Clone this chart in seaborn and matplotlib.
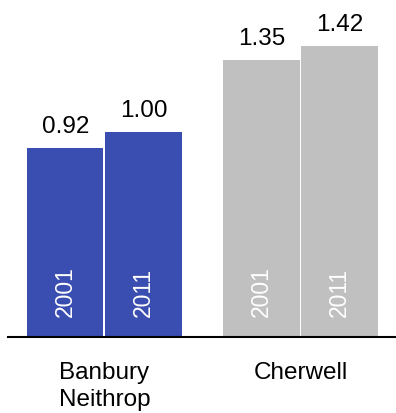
import matplotlib
matplotlib.use("Agg")
import matplotlib.pyplot as plt
import seaborn as sns
import pandas as pd

areas = ["Banbury\nNeithrop", "Cherwell"]
years = ["2001", "2011"]
values_2001 = [0.92, 1.35]
values_2011 = [1.00, 1.42]
area_colors = ["#3a4db0", "#c0c0c0"]

rows = []
for i, a in enumerate(areas):
    rows.append({"area": a, "year": years[0], "value": values_2001[i]})
    rows.append({"area": a, "year": years[1], "value": values_2011[i]})
df = pd.DataFrame(rows)

sns.set_style("white")
plt.rcParams["font.family"] = ["Liberation Sans", "DejaVu Sans"]

fig = plt.figure(figsize=(3.96, 4.14), dpi=100)
ax = fig.add_axes([8 / 396, 76 / 414, 1 - 8 / 396, 338 / 414])

sns.barplot(data=df, x="area", y="value", hue="year", order=areas,
            hue_order=years, ax=ax, linewidth=0, gap=0.025, legend=False,
            palette=["#888888", "#888888"])

for container, yr in zip(ax.containers, years):
    for j, bar in enumerate(container):
        bar.set_facecolor(area_colors[j])
        x = bar.get_x() + bar.get_width() / 2
        h = bar.get_height()
        ax.annotate(f"{h:.2f}", (x, h), xytext=(0, 11.5), textcoords="offset points",
                    ha="center", va="baseline", fontsize=17.5, color="black")
        ax.annotate(yr, (x, 0), xytext=(0, 15), textcoords="offset points",
                    ha="center", va="bottom", rotation=90, fontsize=16.5,
                    color="white")

ax.set_ylim(0, 338 / 205)
ax.set_xlim(-0.492, 1.487)
ax.set_xlabel("")
ax.set_ylabel("")
ax.set_yticks([])
for s in ["top", "left", "right"]:
    ax.spines[s].set_visible(False)
ax.spines["bottom"].set_color("black")
ax.spines["bottom"].set_linewidth(1.5)
ax.tick_params(axis="x", length=0, pad=17, labelsize=17.5, labelcolor="black")
for lbl in ax.get_xticklabels():
    lbl.set_linespacing(1.3)

fig.savefig("out.png", dpi=100)
